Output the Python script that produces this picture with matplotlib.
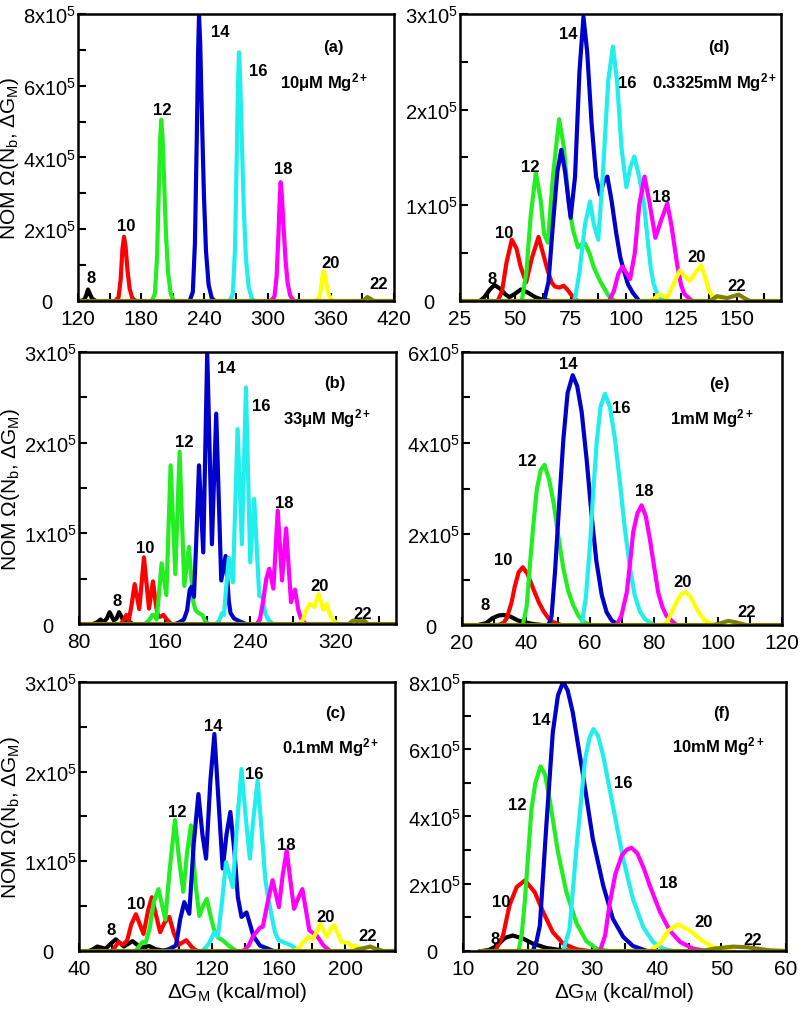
import matplotlib
matplotlib.use("Agg")
import matplotlib.pyplot as plt
from matplotlib.ticker import MultipleLocator, FuncFormatter

plt.rcParams["font.family"] = ["Liberation Sans", "DejaVu Sans"]
plt.rcParams["mathtext.fontset"] = "custom"
plt.rcParams["mathtext.rm"] = "Liberation Sans"
plt.rcParams["mathtext.it"] = "Liberation Sans:italic"
plt.rcParams["mathtext.bf"] = "Liberation Sans:bold"

# points: (dG_M in kcal/mol, NOM in units of 1e5)
# panel (a) 10uM
a_8 = [(122, 0), (126, 0.03), (127.7, 0.15), (129.5, 0.32), (131.2, 0.2), (133.5, 0.06), (137, 0)]
a_10 = [(155, 0), (158.5, 0.1), (160.5, 0.6), (162.2, 1.45), (163.7, 1.79), (165.2, 1.5), (167, 0.85),
        (169, 0.35), (171.5, 0.08), (175, 0)]
a_12 = [(190, 0), (193, 0.2), (195, 1.2), (196.8, 3.2), (198, 4.5), (199, 5.05), (200.2, 4.6), (201.8, 3.3),
        (203.5, 1.9), (205.5, 0.8), (208, 0.2), (211, 0)]
a_14 = [(226, 0), (229, 0.25), (231, 1.6), (232.8, 4.6), (234, 6.9), (234.9, 7.95), (236, 7.2), (237.6, 5.2),
        (239.5, 3.0), (241.5, 1.4), (244, 0.45), (247, 0.08), (250, 0)]
a_16 = [(264, 0), (267, 0.2), (269, 1.4), (270.7, 4.0), (271.9, 6.0), (272.8, 6.93), (273.9, 6.3), (275.5, 4.5),
        (277.4, 2.6), (279.4, 1.2), (282, 0.4), (285, 0.07), (288, 0)]
a_18 = [(303, 0), (306.5, 0.12), (308.6, 0.7), (310.5, 2.0), (311.6, 2.9), (312.4, 3.31), (313.5, 2.95),
        (315.1, 2.1), (317, 1.15), (319, 0.5), (321.5, 0.15), (325, 0)]
a_20 = [(345, 0), (348.5, 0.05), (350.5, 0.3), (352.2, 0.72), (353.2, 0.83), (354.4, 0.72), (356.2, 0.4),
        (358.4, 0.15), (361, 0.03), (364, 0)]
a_22 = [(120, 0), (389, 0), (392, 0.03), (394.7, 0.11), (397.5, 0.06), (400.5, 0.01), (403, 0), (420, 0)]

# panel (b) 33uM
b_8 = [(93, 0), (97, 0.02), (100.2, 0.05), (103, 0.02), (106, 0.06), (108.6, 0.13), (112.5, 0.04), (115, 0.06),
       (117.4, 0.13), (121.5, 0.04), (124, 0.03), (126.7, 0.03), (130, 0)]
b_10 = [(119, 0), (122, 0.05), (124.2, 0.1), (126.5, 0.04), (129, 0.2), (132, 0.44), (136.3, 0.165),
        (140.7, 0.735), (145.4, 0.17), (149.1, 0.47), (152, 0.2), (154, 0.08), (156, 0.08), (158.8, 0.1),
        (162, 0.05), (166, 0)]
b_12 = [(142, 0), (146, 0.05), (148.5, 0.1), (150.5, 0.1), (152.5, 0.05), (154.5, 0.3), (157.2, 0.67),
        (161.6, 0.32), (165.6, 1.75), (170, 0.55), (174, 1.9), (178.4, 0.42), (182.7, 0.85), (186.8, 0.24),
        (189, 0.15), (192, 0.12), (195.2, 0.1), (198, 0.03), (201, 0)]
b_14 = [(170, 0), (174, 0.02), (178, 0.05), (181, 0.15), (183.5, 0.38), (185.2, 0.41), (187.4, 0.3),
        (189.5, 0.9), (192.1, 1.75), (196.1, 0.79), (199.8, 3.0), (204.2, 0.88), (208.2, 2.32), (212.9, 0.48),
        (217, 0.75), (220, 0.25), (221.6, 0.12), (225, 0.06), (230, 0.03), (236, 0)]
b_16 = [(208, 0), (211, 0.04), (213.7, 0.12), (215.5, 0.1), (217.5, 0.4), (220, 0.73), (223.8, 0.46),
        (228.2, 2.15), (232.2, 0.88), (236, 2.61), (240, 0.68), (243.7, 1.38), (248.4, 0.31), (251.5, 0.3),
        (254, 0.12), (256.2, 0.06), (261, 0)]
b_18 = [(246, 0), (249, 0.05), (252, 0.25), (255, 0.5), (257.8, 0.61), (261.6, 0.39), (265.7, 1.25),
        (269.7, 0.48), (273.5, 1.055), (278.1, 0.24), (281.8, 0.38), (285, 0.15), (287.4, 0.06), (292, 0)]
b_20 = [(285, 0), (289, 0.04), (292, 0.15), (295.8, 0.22), (300.1, 0.19), (303.9, 0.33), (308.2, 0.16),
        (311.3, 0.22), (314, 0.12), (316.9, 0.05), (322, 0)]
b_22 = [(80, 0), (332, 0), (335, 0.03), (337.1, 0.04), (339.5, 0.025), (341.8, 0.04), (344, 0.025),
        (346.5, 0.035), (350, 0), (376, 0)]

# panel (c) 0.1mM
c_8 = [(46, 0), (48.5, 0.02), (51, 0.05), (56, 0.025), (59, 0.08), (62.1, 0.13), (67, 0.05), (72.2, 0.11),
       (77, 0.04), (82.2, 0.055), (86, 0.02), (92, 0)]
c_10 = [(60, 0), (63.7, 0.1), (66.5, 0.07), (69, 0.12), (71.5, 0.3), (74.2, 0.41), (78.8, 0.19), (81.5, 0.45),
        (83.8, 0.6), (86.3, 0.4), (88.8, 0.21), (91.5, 0.32), (94.3, 0.38), (97, 0.2), (100, 0.07),
        (104.5, 0.12), (108, 0.04), (111, 0)]
c_12 = [(74, 0), (78.2, 0.1), (80, 0.09), (82.5, 0.25), (85, 0.55), (87.8, 0.69), (91.9, 0.35), (94.5, 0.9),
        (97.7, 1.46), (100.3, 1.0), (102.7, 0.66), (105, 1.1), (107.3, 1.4), (110, 0.75), (112.4, 0.39),
        (114.5, 0.5), (116.8, 0.58), (119, 0.4), (121, 0.25), (123.5, 0.15), (126.4, 0.12), (130, 0.06),
        (134.5, 0)]
c_14 = [(90, 0), (94, 0.02), (98.3, 0.06), (100.8, 0.35), (103.3, 0.545), (106.3, 0.415), (109, 1.2),
        (111.8, 1.75), (114.2, 1.3), (116.4, 1.03), (119, 1.9), (121.4, 2.42), (123.8, 1.7), (126.4, 0.92),
        (128.7, 1.3), (131, 1.55), (133.5, 1.1), (135.5, 0.6), (137.7, 0.38), (140.7, 0.43), (142.8, 0.3),
        (144.8, 0.17), (148.8, 0.06), (153, 0.03), (157, 0)]
c_16 = [(114.4, 0), (118, 0.08), (121.4, 0.21), (123.5, 0.16), (126, 0.55), (128.4, 0.99), (130.5, 0.85),
        (132.5, 0.71), (135, 1.4), (137.7, 2.03), (140.2, 1.5), (142.7, 1.03), (145, 1.5), (147.4, 1.9),
        (150, 1.3), (152, 0.8), (153.8, 0.58), (157.8, 0.21), (160, 0.12), (162.8, 0.1), (167.9, 0.06),
        (172, 0)]
c_18 = [(138.7, 0), (142, 0.06), (144.8, 0.17), (148.8, 0.26), (150.5, 0.27), (153.5, 0.55), (156.4, 0.79),
        (160.2, 0.49), (162.5, 0.85), (164.9, 1.12), (167, 0.8), (169.3, 0.47), (172, 0.6), (174.3, 0.69),
        (176.5, 0.45), (178.5, 0.23), (183, 0.17), (187, 0.06), (191, 0)]
c_20 = [(169, 0), (172, 0.03), (175, 0.1), (177.9, 0.16), (180.5, 0.13), (183, 0.22), (185, 0.3), (189, 0.16),
        (191.5, 0.25), (193.4, 0.29), (195.5, 0.2), (198, 0.1), (202, 0.09), (204, 0.05), (206, 0.06),
        (211, 0)]
c_22 = [(40, 0), (205, 0), (208, 0.02), (211, 0.03), (215.1, 0.05), (219, 0.02), (223, 0), (230, 0)]

# panel (d) 0.3325mM
d_8 = [(34, 0), (36, 0.04), (38.5, 0.12), (40.6, 0.167), (43, 0.13), (45.5, 0.07), (47.3, 0.04),
       (49.5, 0.07), (52.5, 0.12), (55.5, 0.09), (59, 0.04), (62, 0.015), (66, 0)]
d_10 = [(42, 0), (44, 0.1), (46, 0.4), (48.4, 0.64), (50.5, 0.55), (52.5, 0.35), (54.9, 0.195), (57.5, 0.45),
        (60.5, 0.67), (62.5, 0.5), (64.6, 0.32), (66.5, 0.19), (68, 0.15), (70, 0.14), (71.8, 0.16),
        (73.5, 0.12), (75.1, 0.07), (78, 0)]
d_12 = [(52.9, 0), (55, 0.3), (57, 0.9), (59.3, 1.34), (61.5, 1.05), (63, 0.7), (64.7, 0.61), (67, 1.3),
        (69.8, 1.9), (72, 1.6), (74, 1.05), (76, 0.75), (78.3, 0.56), (80.5, 0.6), (81.5, 0.6), (83.5, 0.5),
        (85.5, 0.35), (88.5, 0.2), (92, 0.06), (95, 0)]
d_14 = [(63, 0), (65, 0.2), (67, 0.8), (69, 1.35), (70.8, 1.58), (72.5, 1.35), (75, 0.87), (77, 1.3),
        (79, 2.4), (80.8, 2.97), (82.5, 2.6), (84.5, 1.85), (86.5, 1.3), (88.3, 1.11), (90, 1.25), (91.6, 1.3),
        (93.5, 1.05), (95.6, 0.71), (97.5, 0.45), (99.3, 0.3), (101, 0.17), (103, 0.09), (106, 0)]
d_16 = [(76.8, 0), (79, 0.3), (81.5, 0.8), (83.8, 1.04), (85.5, 0.8), (87.5, 0.64), (89.5, 1.3), (92, 2.3),
        (94.1, 2.66), (96, 2.3), (98, 1.6), (100.2, 1.19), (102, 1.4), (103.8, 1.51), (106, 1.3),
        (108.2, 1.01), (110, 0.6), (111.2, 0.35), (112.5, 0.18), (114.2, 0.07), (117.2, 0)]
d_18 = [(92.3, 0), (94.5, 0.1), (96.5, 0.28), (98.4, 0.36), (100, 0.3), (101.9, 0.23), (104, 0.5), (106, 1.0),
        (108.4, 1.3), (110.5, 1.05), (113.3, 0.66), (116, 0.85), (118.7, 1.02), (120.5, 0.8), (123.3, 0.36),
        (125, 0.16), (126.5, 0.07), (130, 0)]
d_20 = [(111, 0), (113, 0.03), (115, 0.066), (118.7, 0.04), (121, 0.15), (124.4, 0.32), (126.5, 0.26),
        (128.9, 0.21), (131.5, 0.3), (134, 0.37), (135.8, 0.25), (137.5, 0.11), (140, 0.02), (143, 0)]
d_22 = [(25, 0), (138, 0), (141.2, 0.05), (145.8, 0.03), (148.5, 0.05), (151, 0.066), (153.5, 0.03),
        (156, 0), (170, 0)]

# panel (e) 1mM
e_8 = [(25, 0), (27.5, 0.04), (29.5, 0.15), (31.5, 0.21), (33, 0.22), (35, 0.19), (37.5, 0.1), (40.3, 0.05),
       (42.5, 0.02), (45, 0)]
e_10 = [(31.5, 0), (33, 0.05), (34, 0.15), (35.5, 0.5), (36.5, 0.85), (37.7, 1.16), (39, 1.27), (40.5, 1.12),
        (42.3, 0.79), (44, 0.5), (45.5, 0.3), (47, 0.15), (48.6, 0.06), (51, 0)]
e_12 = [(39, 0), (40.2, 0.4), (41.3, 1.38), (42.3, 2.2), (43.4, 2.99), (44.6, 3.4), (45.8, 3.52), (47.2, 3.2),
        (48.6, 2.7), (50.1, 1.95), (51.7, 1.23), (53.2, 0.75), (54.8, 0.43), (56.4, 0.2), (58, 0.07), (60, 0)]
e_14 = [(47, 0), (48, 0.2), (49.1, 1.2), (50.4, 2.7), (51.7, 4.1), (53, 5.1), (54.6, 5.49), (56, 5.25),
        (57.4, 4.68), (59, 3.6), (60.5, 2.41), (62, 1.4), (63.7, 0.65), (65.2, 0.28), (66.8, 0.1), (69, 0)]
e_16 = [(57.4, 0), (58.7, 0.6), (60, 1.75), (61, 2.9), (62.1, 4.02), (63.3, 4.8), (64.7, 5.08), (66.2, 4.8),
        (67.8, 4.09), (69.4, 3.1), (70.9, 2.11), (72.5, 1.25), (74, 0.65), (75.6, 0.3), (77.2, 0.13), (80, 0)]
e_18 = [(68.3, 0), (69.8, 0.2), (71.5, 0.72), (72.5, 1.35), (73.5, 2.04), (74.8, 2.45), (76.1, 2.63),
        (77.4, 2.4), (78.7, 1.89), (80, 1.3), (81.3, 0.72), (82.6, 0.4), (83.9, 0.2), (87, 0)]
e_20 = [(82.9, 0), (84, 0.06), (85, 0.2), (86, 0.35), (87, 0.5), (88.5, 0.68), (90, 0.72), (91.4, 0.62),
        (92.8, 0.43), (94.3, 0.24), (95.9, 0.1), (98.5, 0)]
e_22 = [(20, 0), (98.5, 0), (100.5, 0.03), (103.2, 0.09), (105.5, 0.06), (108.9, 0), (120, 0)]

# panel (f) 10mM
f_8 = [(13, 0), (14, 0.03), (15.2, 0.15), (16.5, 0.39), (17.7, 0.46), (19.3, 0.37), (20.8, 0.22),
       (22.9, 0.09), (25, 0.03), (27, 0)]
f_10 = [(15, 0), (16.2, 0.46), (17.2, 1.36), (18.3, 1.9), (19.6, 2.1), (21.1, 1.75), (22.4, 1.16),
        (23.9, 0.56), (25.5, 0.22), (27.6, 0.05), (29.5, 0)]
f_12 = [(18.6, 0), (19.1, 0.5), (19.6, 1.55), (20.6, 4.22), (21.2, 5.0), (22, 5.49), (22.7, 5.25),
        (23.4, 4.52), (24.7, 2.94), (26, 1.75), (27.6, 0.81), (29.1, 0.29), (30.7, 0.07), (32.5, 0)]
f_14 = [(20.8, 0), (21.4, 0.3), (21.9, 0.76), (22.9, 3.73), (23.9, 6.5), (24.7, 7.6), (25.5, 8.0),
        (26.2, 7.75), (27, 7.09), (28.6, 5.21), (30.1, 3.33), (31.7, 1.95), (33.2, 0.96), (34.8, 0.42),
        (36.3, 0.15), (38.5, 0)]
f_16 = [(25.5, 0), (26.5, 0.66), (27.6, 3.14), (28.9, 5.71), (29.6, 6.35), (30.2, 6.6), (30.9, 6.4),
        (31.7, 5.81), (33.2, 4.32), (34.8, 2.74), (36.3, 1.55), (37.9, 0.71), (39.4, 0.27), (41, 0.07),
        (42.5, 0)]
f_18 = [(31.2, 0), (32, 0.46), (32.7, 1.4), (33.6, 2.3), (34.6, 2.85), (35.4, 3.02), (36.1, 3.07), (37, 2.9),
        (38, 2.45), (38.9, 1.95), (40.5, 1.16), (42, 0.61), (43.6, 0.27), (45.6, 0.07), (47.7, 0)]
f_20 = [(38.9, 0), (40.5, 0.22), (41.8, 0.61), (43.3, 0.79), (45.1, 0.61), (46.9, 0.32), (48.7, 0.12),
        (50.8, 0.03), (52, 0)]
f_22 = [(12.5, 0), (46.7, 0), (49, 0.07), (51.8, 0.13), (54, 0.11), (57.5, 0.02), (60, 0)]

sizes = [8, 10, 12, 14, 16, 18, 20, 22]
colors = ["#000000", "#ff0000", "#22ee22", "#0000cc", "#22eeee", "#ff00ff", "#ffff00", "#808000"]

# where the size numbers sit in each panel
a_labels = [(132.7, 0.65), (165.3, 2.1), (199.7, 5.35), (255, 7.5), (291.5, 6.42), (315.3, 3.68), (360, 1.08), (405.8, 0.48)]
b_labels = [(115.8, 0.26), (141.6, 0.845), (178.4, 2.01), (217.9, 2.83), (250, 2.41), (271.4, 1.34), (305, 0.42), (344.9, 0.12)]
c_labels = [(59.3, 0.24), (74.2, 0.53), (98.9, 1.56), (121, 2.51), (145.1, 1.98), (164.8, 1.19), (188.3, 0.39), (213.5, 0.17)]
d_labels = [(39.7, 0.24), (44.8, 0.72), (56.8, 1.41), (73.8, 2.8), (100.5, 2.28), (115.8, 1.09), (132, 0.46), (149.9, 0.16)]
e_labels = [(27.3, 0.46), (32.8, 1.43), (40.3, 3.62), (53.3, 5.74), (69.9, 4.79), (77, 2.96), (88.9, 0.95), (108.9, 0.29)]
f_labels = [(14.9, 0.37), (15.9, 1.47), (18.4, 4.37), (22.1, 6.89), (34.8, 5.0), (41.8, 2.03), (47.3, 0.89), (54.8, 0.35)]

panels = [
    dict(rect=[0.0975, 0.7016, 0.395, 0.2836], curves=[a_8, a_10, a_12, a_14, a_16, a_18, a_20, a_22],
         labels=a_labels, xlim=(120, 420), xstep=60, ylim=(0, 8), ystep=2,
         tag="(a)", tag_xy=(362, 7.09), conc=r"10μM Mg$^{\mathbf{2+}}$", conc_xy=(354, 6.12), left=True, bottom=False),
    dict(rect=[0.575, 0.7016, 0.401, 0.2836], curves=[d_8, d_10, d_12, d_14, d_16, d_18, d_20, d_22],
         labels=d_labels, xlim=(25, 170), xstep=25, ylim=(0, 3), ystep=1,
         tag="(d)", tag_xy=(142.1, 2.66), conc=r"0.3325mM Mg$^{\mathbf{2+}}$", conc_xy=(139.9, 2.29), left=False, bottom=False),
    dict(rect=[0.09875, 0.3824, 0.396, 0.2688], curves=[b_8, b_10, b_12, b_14, b_16, b_18, b_20, b_22],
         labels=b_labels, xlim=(80, 376), xstep=80, ylim=(0, 3), ystep=1,
         tag="(b)", tag_xy=(319, 2.66), conc=r"33μM Mg$^{\mathbf{2+}}$", conc_xy=(311.3, 2.28), left=True, bottom=False),
    dict(rect=[0.5775, 0.3814, 0.4, 0.2698], curves=[e_8, e_10, e_12, e_14, e_16, e_18, e_20, e_22],
         labels=e_labels, xlim=(20, 120), xstep=20, ylim=(0, 6), ystep=2,
         tag="(e)", tag_xy=(100.4, 5.3), conc=r"1mM Mg$^{\mathbf{2+}}$", conc_xy=(98, 4.57), left=False, bottom=False),
    dict(rect=[0.09875, 0.0593, 0.395, 0.2658], curves=[c_8, c_10, c_12, c_14, c_16, c_18, c_20, c_22],
         labels=c_labels, xlim=(40, 230), xstep=40, ylim=(0, 3), ystep=1,
         tag="(c)", tag_xy=(194.4, 2.66), conc=r"0.1mM Mg$^{\mathbf{2+}}$", conc_xy=(191.4, 2.28), left=True, bottom=True),
    dict(rect=[0.57875, 0.0593, 0.40375, 0.2658], curves=[f_8, f_10, f_12, f_14, f_16, f_18, f_20, f_22],
         labels=f_labels, xlim=(10, 60), xstep=10, ylim=(0, 8), ystep=2,
         tag="(f)", tag_xy=(50, 7.09), conc=r"10mM Mg$^{\mathbf{2+}}$", conc_xy=(49.5, 6.1), left=False, bottom=True),
]


def ytick_text(v, pos):
    if abs(v) < 1e-9:
        return "0    "
    return "%dx10$^5$" % round(v)


def draw_panel(fig, p):
    ax = fig.add_axes(p["rect"])
    for pts, col in zip(p["curves"], colors):
        xs = [q[0] for q in pts]
        ys = [q[1] for q in pts]
        ax.plot(xs, ys, color=col, lw=3.0, solid_joinstyle="round", solid_capstyle="round")
    for n, (lx, ly) in zip(sizes, p["labels"]):
        ax.text(lx, ly, str(n), fontsize=12, fontweight="bold", ha="center", va="center")
    ax.text(*p["tag_xy"], p["tag"], fontsize=12, fontweight="bold", ha="center", va="center")
    ax.text(*p["conc_xy"], p["conc"], fontsize=12, fontweight="bold", ha="center", va="center")

    ax.set_xlim(*p["xlim"])
    ax.set_ylim(*p["ylim"])
    ax.xaxis.set_major_locator(MultipleLocator(p["xstep"]))
    ax.xaxis.set_minor_locator(MultipleLocator(p["xstep"] / 2))
    ax.yaxis.set_major_locator(MultipleLocator(p["ystep"]))
    ax.yaxis.set_minor_locator(MultipleLocator(p["ystep"] / 2))
    ax.yaxis.set_major_formatter(FuncFormatter(ytick_text))
    ax.tick_params(which="both", direction="in", length=6, width=1.5, top=False, right=False)
    ax.tick_params(axis="x", which="major", labelsize=15, pad=6)
    ax.tick_params(axis="y", which="major", labelsize=14.5, pad=1.5)
    for s in ax.spines.values():
        s.set_linewidth(1.8)

    if p["left"]:
        ax.set_ylabel(r"NOM Ω(N$_{\rm b}$, ΔG$_{\rm M}$)", fontsize=15, labelpad=1)
    if p["bottom"]:
        ax.set_xlabel(r"ΔG$_{\rm M}$ (kcal/mol)", fontsize=15, labelpad=1)
    return ax


def main():
    fig = plt.figure(figsize=(8, 10.12), dpi=100)
    for p in panels:
        draw_panel(fig, p)
    fig.savefig("out.png", dpi=100)


if __name__ == "__main__":
    main()
